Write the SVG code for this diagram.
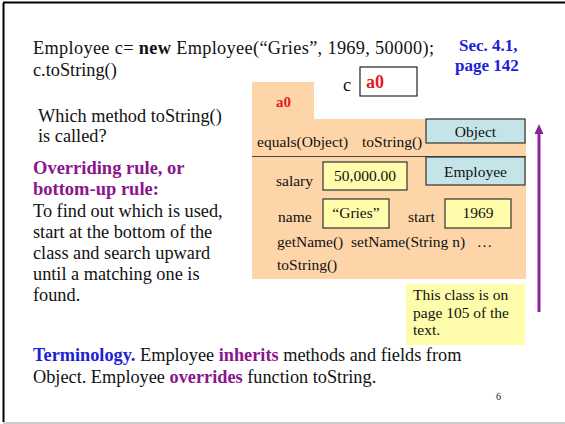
<svg xmlns="http://www.w3.org/2000/svg" width="565" height="424" viewBox="0 0 565 424" font-family="'Liberation Serif', 'Times New Roman', 'DejaVu Serif', serif">
  <style>
    text { font-family: 'Liberation Serif', 'Times New Roman', 'DejaVu Serif', serif; fill: #111; }
    .body { font-size: 18.3px; }
    .small { font-size: 15.5px; }
    .bold { font-weight: bold; }
    .red { fill: #e8191c; font-weight: bold; }
    .purple { fill: #8a168c; font-weight: bold; }
    .blue { fill: #1b22d6; font-weight: bold; }
    .field { fill: #fffcac; stroke: #333; stroke-width: 1.2; }
    .cls { fill: #c4e4e8; stroke: #333; stroke-width: 1.2; }
  </style>

  <rect x="0" y="0" width="565" height="424" fill="#fff"/>
  <!-- slide frame -->
  <line x1="3.5" y1="3" x2="3.5" y2="422" stroke="#000" stroke-width="2"/>
  <line x1="3" y1="2.5" x2="565" y2="2.5" stroke="#000" stroke-width="2"/>
  <line x1="3" y1="423" x2="565" y2="423" stroke="#bbb" stroke-width="1.5"/>

  <!-- statement -->
  <text class="body" x="33" y="54" textLength="401" lengthAdjust="spacing">Employee c= <tspan class="bold">new</tspan> Employee(“Gries”, 1969, 50000);</text>
  <text class="body" x="33" y="76">c.toString()</text>

  <text class="blue" x="459" y="51" font-size="17">Sec. 4.1,</text>
  <text class="blue" x="455" y="71" font-size="17">page 142</text>

  <!-- variable c -->
  <g id="var-c">
    <text class="body" x="343" y="91">c</text>
    <rect x="360" y="67" width="57" height="29" fill="#fff" stroke="#222" stroke-width="1.2"/>
    <text class="red" x="366" y="88" font-size="18">a0</text>
  </g>

  <!-- object a0 -->
  <g id="obj-a0">
    <path d="M252,82 H314 V119 H526 V279 H252 Z" fill="#fed5a9"/>
    <text class="red" x="276" y="107" font-size="15">a0</text>
    <line x1="252" y1="156.5" x2="526" y2="156.5" stroke="#444" stroke-width="1.2"/>
  </g>

  <g id="part-object">
    <rect class="cls" x="426" y="119" width="99" height="24"/>
    <text class="small" x="475.5" y="137" text-anchor="middle" font-size="16">Object</text>
    <text class="small" x="257" y="147">equals(Object)</text>
    <text class="small" x="362" y="147">toString()</text>
  </g>

  <g id="part-employee">
    <rect class="cls" x="426" y="157" width="99" height="28"/>
    <text class="small" x="475.5" y="177" text-anchor="middle" font-size="16">Employee</text>

    <text class="small" x="276" y="186">salary</text>
    <rect class="field" x="323" y="162" width="84" height="28"/>
    <text class="small" x="365" y="181" text-anchor="middle">50,000.00</text>

    <text class="small" x="278" y="222">name</text>
    <rect class="field" x="323" y="199" width="66" height="29"/>
    <text class="small" x="356" y="218" text-anchor="middle">“Gries”</text>

    <text class="small" x="408" y="222">start</text>
    <rect class="field" x="445" y="199" width="66" height="29"/>
    <text class="small" x="478" y="218" text-anchor="middle">1969</text>

    <text class="small" x="277" y="247" xml:space="preserve">getName()  setName(String n)   …</text>
    <text class="small" x="277" y="270">toString()</text>
  </g>

  <g id="note">
    <rect x="406" y="284" width="119" height="61" fill="#fffcac"/>
    <text class="small" x="413" y="300">This class is on</text>
    <text class="small" x="413" y="318">page 105 of the</text>
    <text class="small" x="413" y="335">text.</text>
  </g>

  <!-- search direction -->
  <g id="connectors">
    <line x1="539" y1="312" x2="539" y2="130" stroke="#8a249a" stroke-width="3"/>
    <path d="M534.5,134 L539,124 L543.5,134 Z" fill="#8a249a"/>
  </g>

  <!-- rule text -->
  <text class="body" x="38" y="122">Which method toString()</text>
  <text class="body" x="38" y="142">is called?</text>
  <text class="purple" x="33" y="174" font-size="18.5">Overriding rule, or</text>
  <text class="purple" x="33" y="195" font-size="18.5">bottom-up rule:</text>
  <text class="body" x="33" y="217">To find out which is used,</text>
  <text class="body" x="33" y="238">start at the bottom of the</text>
  <text class="body" x="33" y="259">class and search upward</text>
  <text class="body" x="33" y="280">until a matching one is</text>
  <text class="body" x="33" y="301">found.</text>

  <!-- terminology -->
  <text class="body" x="33" y="361"><tspan class="blue">Terminology.</tspan> Employee <tspan class="purple">inherits</tspan> methods and fields from</text>
  <text class="body" x="33" y="383">Object. Employee <tspan class="purple">overrides</tspan> function toString.</text>

  <text x="496" y="400" font-size="10">6</text>
</svg>
